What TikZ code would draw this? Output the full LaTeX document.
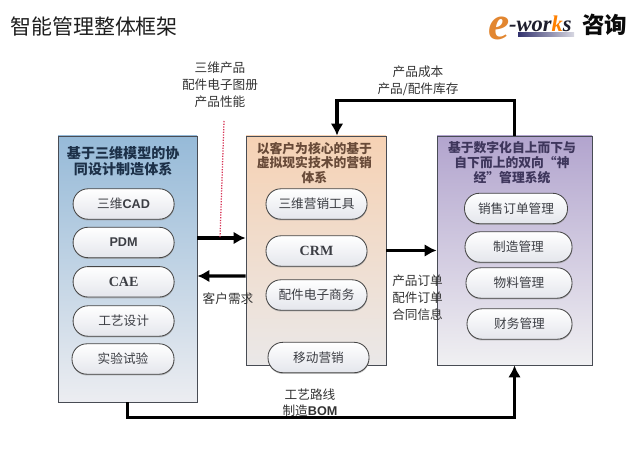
\documentclass[tikz,border=0pt]{standalone}
\usepackage{fontspec}
\setmainfont{Noto Sans CJK SC}
\newfontfamily\latinserif{Liberation Serif}
\newfontfamily\latinsans{Liberation Sans}
\usetikzlibrary{arrows.meta}
\usetikzlibrary{shadows}

\tikzset{
    panelbox/.style={rectangle, draw={rgb,255:red,72;green,76;blue,84}, line width=0.6pt, minimum width=#1},
    pillbox/.style={rectangle, rounded corners=0.37cm, draw={rgb,255:red,70;green,70;blue,70}, line width=0.6pt, top color=white, bottom color={rgb,255:red,228;green,230;blue,236}, drop shadow={shadow xshift=0.2pt, shadow yshift=-0.9pt, fill={rgb,255:red,150;green,150;blue,150}, opacity=0.6}, minimum height=0.76cm, text={rgb,255:red,60;green,62;blue,68}, font=\fontsize{9}{11}\selectfont, inner sep=0pt},
    labeltext/.style={text={rgb,255:red,50;green,50;blue,50}, font=\fontsize{9}{12}\selectfont, align=center, inner sep=0pt},
    titletext/.style={font=\fontsize{9.1}{10.6}\selectfont\bfseries, align=center, inner sep=0pt},
    flowarrow/.style={draw={rgb,255:red,0;green,0;blue,0}, line width=2.3pt, -{Latex[length=0.3cm, width=0.32cm]}},
}

\begin{document}
\begin{tikzpicture}
    \useasboundingbox (0,0) rectangle (16,11.425);

    \node[anchor=west, inner sep=0pt, text={rgb,255:red,30;green,30;blue,30}, font=\fontsize{14.9}{16}\selectfont] (ndTitle) at (0.25,10.75) {智能管理整体框架};

    \node[panelbox=3.475cm, minimum height=6.65cm, top color={rgb,255:red,150;green,186;blue,216}, bottom color={rgb,255:red,236;green,237;blue,241}] (ndDesign) at (3.188,4.7) {};
    \node[panelbox=3.5cm, minimum height=5.725cm, top color={rgb,255:red,246;green,210;blue,180}, bottom color={rgb,255:red,234;green,232;blue,232}] (ndMarket) at (7.9,5.163) {};
    \node[panelbox=3.875cm, minimum height=5.725cm, top color={rgb,255:red,178;green,164;blue,206}, bottom color={rgb,255:red,240;green,240;blue,242}] (ndManage) at (12.863,5.163) {};

    \node[titletext, text={rgb,255:red,28;green,48;blue,72}, font=\fontsize{10}{11.2}\selectfont\bfseries] (ndDesignTitle) at (3.08,7.4) {基于三维模型的协\\同设计制造体系};
    \node[titletext, text={rgb,255:red,104;green,74;blue,56}] (ndMarketTitle) at (7.86,7.35) {以客户为核心的基于\\虚拟现实技术的营销\\体系};
    \node[titletext, text={rgb,255:red,62;green,54;blue,92}] (ndManageTitle) at (12.8,7.35) {基于数字化自上而下与\\自下而上的双向“神\\经”管理系统};

    \node[pillbox, minimum width=2.525cm] (ndCad) at (3.09,6.325) {三维{\latinsans\bfseries CAD}};
    \node[pillbox, minimum width=2.525cm] (ndPdm) at (3.09,5.363) {{\latinsans\bfseries PDM}};
    \node[pillbox, minimum width=2.525cm] (ndCae) at (3.09,4.38) {{\latinserif\bfseries\fontsize{10}{11}\selectfont CAE}};
    \node[pillbox, minimum width=2.525cm] (ndCraft) at (3.09,3.4) {工艺设计};
    \node[pillbox, minimum width=2.55cm] (ndTest) at (3.075,2.45) {实验试验};

    \node[pillbox, minimum width=2.525cm] (ndTools) at (7.913,6.325) {三维营销工具};
    \node[pillbox, minimum width=2.525cm] (ndCrm) at (7.913,5.15) {{\latinserif\bfseries\fontsize{10}{11}\selectfont CRM}};
    \node[pillbox, minimum width=2.525cm] (ndCommerce) at (7.913,4.05) {配件电子商务};
    \node[pillbox, minimum width=2.525cm] (ndMobile) at (7.963,2.487) {移动营销};

    \node[pillbox, minimum width=2.575cm] (ndOrder) at (12.9,6.213) {销售订单管理};
    \node[pillbox, minimum width=2.675cm] (ndMake) at (12.963,5.25) {制造管理};
    \node[pillbox, minimum width=2.65cm] (ndMaterial) at (12.975,4.35) {物料管理};
    \node[pillbox, minimum width=2.625cm] (ndFinance) at (12.988,3.325) {财务管理};

    \draw[flowarrow] ([yshift=0.775cm]ndDesign.east) -- ([yshift=0.312cm]ndMarket.west);
    \draw[flowarrow] ([yshift=-0.637cm]ndMarket.west) -- ([yshift=-0.175cm]ndDesign.east);
    \draw[flowarrow] (ndMarket.east) -- (ndManage.west);
    \draw[flowarrow] (ndManage.north) -- ++(0,0.875) -| ([xshift=0.525cm]ndMarket.north);
    \draw[flowarrow] (ndDesign.south) -- ++(0,-0.375) -| (ndManage.south);

    \coordinate (ndRedTop) at (5.6,8.4);
    \coordinate (ndRedEnd) at (5.5,5.475);
    \draw[draw={rgb,255:red,214;green,50;blue,84}, line width=0.9pt, densely dotted] (ndRedTop) -- (ndRedEnd);

    \node[labeltext] (ndLabelProduct) at (5.5,9.3) {三维产品\\配件电子图册\\产品性能};
    \node[labeltext] (ndLabelCost) at (10.45,9.4) {产品成本\\产品/配件库存};
    \node[labeltext] (ndLabelNeed) at (5.7,3.95) {客户需求};
    \node[labeltext, anchor=west] (ndLabelOrder) at (9.8,3.975) {产品订单\\配件订单\\合同信息};
    \node[labeltext, font=\fontsize{9}{11.4}\selectfont] (ndLabelRoute) at (7.75,1.36) {工艺路线\\制造{\latinsans\bfseries BOM}};

    \node[inner sep=0pt, text={rgb,255:red,226;green,134;blue,48}, font=\fontsize{34}{34}\selectfont\latinserif\bfseries\itshape] (ndLogoE) at (12.47,10.72) {e};
    \node[inner sep=0pt, minimum width=1.4cm, minimum height=0.08cm, left color={rgb,255:red,50;green,50;blue,110}, right color={rgb,255:red,215;green,215;blue,225}] (ndLogoBar) at (13.65,10.56) {};
    \node[inner sep=0pt, anchor=west, text={rgb,255:red,30;green,30;blue,45}, font=\fontsize{16}{17}\selectfont\latinserif\bfseries\itshape] (ndLogoWorks) at (12.72,10.82) {-wor{\color{orange}k}s};
    \node[inner sep=0pt, anchor=west, text={rgb,255:red,10;green,10;blue,10}, font=\fontsize{16}{17}\selectfont\bfseries] (ndLogoCn) at (14.55,10.8) {咨询};
\end{tikzpicture}
\end{document}
